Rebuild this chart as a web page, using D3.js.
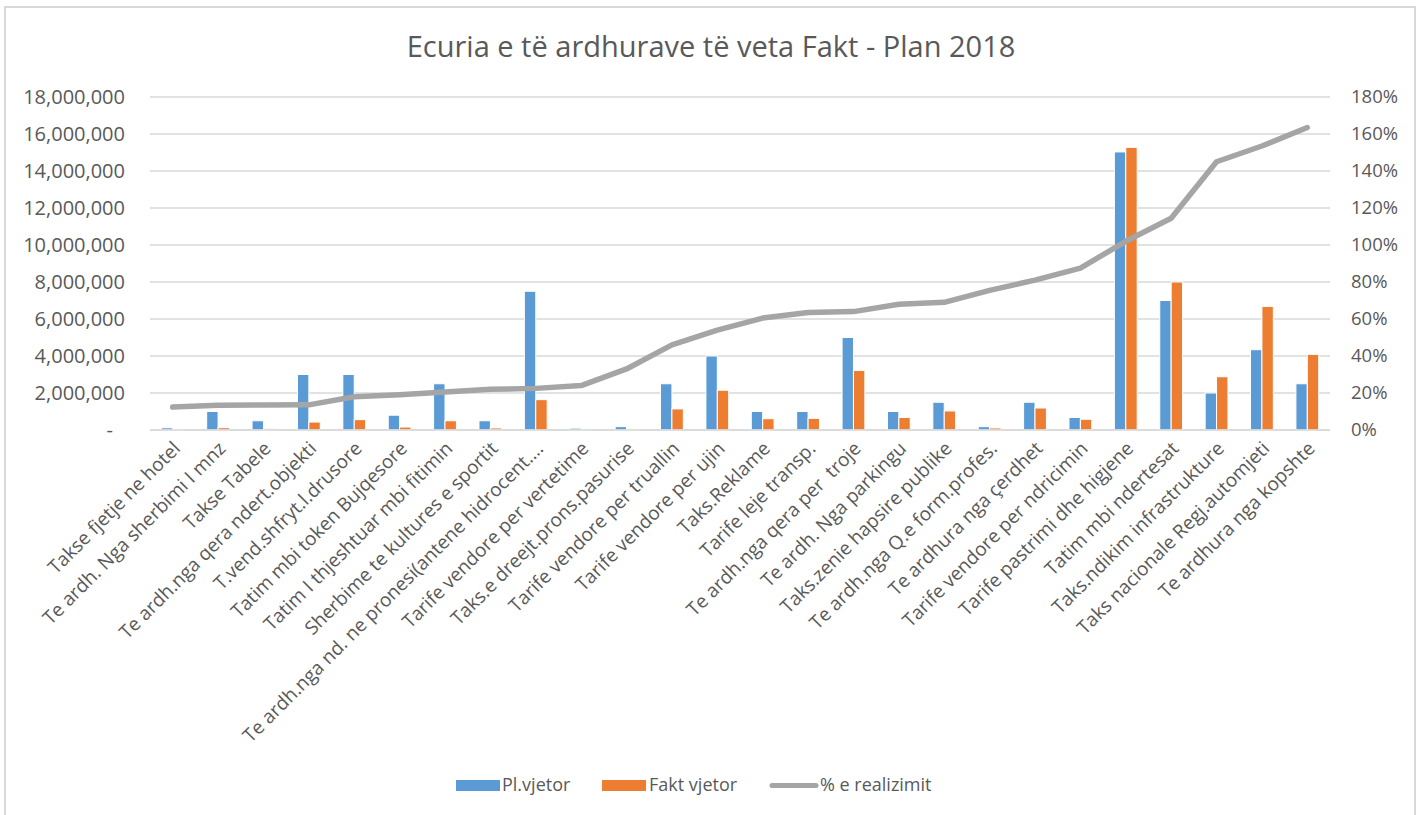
<!DOCTYPE html>
<html>
<head>
<meta charset="utf-8">
<script src="https://cdn.jsdelivr.net/npm/d3@7"></script>
<style>
  html, body { margin: 0; padding: 0; background: #fff; }
  svg { display: block; font-family: "Open Sans", sans-serif; }
</style>
</head>
<body>
<svg id="chart" width="1422" height="815"></svg>
<script>
const categories = [
  "Takse fjetje ne hotel",
  "Te ardh. Nga sherbimi I mnz",
  "Takse Tabele",
  "Te ardh.nga qera ndert.objekti",
  "T.vend.shfryt.l.drusore",
  "Tatim mbi token Bujqesore",
  "Tatim I thjeshtuar mbi fitimin",
  "Sherbime te kultures e sportit",
  "Te ardh.nga nd. ne pronesi(antene hidrocent.…",
  "Tarife vendore per vertetime",
  "Taks.e dreejt.prons.pasurise",
  "Tarife vendore per truallin",
  "Tarife vendore per ujin",
  "Taks.Reklame",
  "Tarife leje transp.",
  "Te ardh.nga qera per  troje",
  "Te ardh. Nga parkingu",
  "Taks.zenie hapsire publike",
  "Te ardh.nga Q.e form.profes.",
  "Te ardhura nga çerdhet",
  "Tarife vendore per ndricimin",
  "Tarife pastrimi dhe higjene",
  "Tatim mbi ndertesat",
  "Taks.ndikim infrastrukture",
  "Taks nacionale Regj.automjeti",
  "Te ardhura nga kopshte"
];
const planValues = [120000, 1000000, 500000, 3000000, 3000000, 800000, 2500000, 500000, 7500000, 100000,
  180000, 2500000, 4000000, 1000000, 1000000, 5000000, 1000000, 1500000, 180000, 1500000,
  680000, 15030000, 7000000, 2000000, 4340000, 2500000];
const factValues = [15000, 125000, 67000, 430000, 560000, 160000, 500000, 110000, 1640000, 24000,
  58000, 1140000, 2150000, 610000, 630000, 3220000, 680000, 1030000, 110000, 1190000,
  580000, 15280000, 8000000, 2880000, 6680000, 4090000];
const pctValues = [12.4, 13.4, 13.5, 13.6, 18, 19, 20.5, 22, 22.5, 24, 33, 46, 54, 60.5, 63.5, 64, 68, 69,
  75.5, 81, 87.5, 102, 114.5, 145, 153.5, 163.5];
const leftTicks = [0, 2000000, 4000000, 6000000, 8000000, 10000000, 12000000, 14000000, 16000000, 18000000];
const rightTicks = [0, 20, 40, 60, 80, 100, 120, 140, 160, 180];
const seriesNames = ["Pl.vjetor", "Fakt vjetor", "% e realizimit"];
const title = "Ecuria e të ardhurave të veta Fakt - Plan 2018";

const colors = { plan: "#5B9BD5", fact: "#ED7D31", line: "#A5A5A5", grid: "#D9D9D9", text: "#595959" };

const svg = d3.select("#chart");
const plot = { left: 150, right: 1330, top: 97, bottom: 430 };

// chart border
svg.append("rect").attr("x", 5).attr("y", 7).attr("width", 1410).attr("height", 820)
  .attr("fill", "none").attr("stroke", colors.grid).attr("stroke-width", 2);

const x = d3.scaleBand().domain(categories).range([plot.left, plot.right]).padding(0);
const y = d3.scaleLinear().domain([0, 18000000]).range([plot.bottom, plot.top]);
const y2 = d3.scaleLinear().domain([0, 180]).range([plot.bottom, plot.top]);

// title
svg.append("text").attr("x", 711).attr("y", 57).attr("text-anchor", "middle")
  .attr("font-size", 29).attr("fill", colors.text).text(title);

// gridlines
svg.append("g").selectAll("line").data(leftTicks).join("line")
  .attr("x1", plot.left).attr("x2", plot.right)
  .attr("y1", d => y(d)).attr("y2", d => y(d))
  .attr("stroke", colors.grid).attr("stroke-width", 1.5);

// left axis
const fmt = d3.format(",");
const leftAxis = svg.append("g").attr("transform", `translate(${plot.left},0)`)
  .call(d3.axisLeft(y).tickValues(leftTicks).tickSize(0).tickPadding(25)
    .tickFormat(d => d === 0 ? "-" : fmt(d)));
leftAxis.select(".domain").remove();
leftAxis.selectAll("text").attr("font-size", 20).attr("fill", colors.text)
  .attr("font-family", "Open Sans, sans-serif")
  .attr("dx", d => d === 0 ? -12 : 0);

// right axis
const rightAxis = svg.append("g").attr("transform", `translate(${plot.right},0)`)
  .call(d3.axisRight(y2).tickValues(rightTicks).tickSize(0).tickPadding(21)
    .tickFormat(d => d + "%"));
rightAxis.select(".domain").remove();
rightAxis.selectAll("text").attr("font-size", 18.5).attr("fill", colors.text)
  .attr("font-family", "Open Sans, sans-serif");

// bars
const bw = x.bandwidth();
const barW = 11.4;
const bars = svg.append("g");
bars.selectAll("rect.plan").data(categories).join("rect").attr("class", "plan")
  .attr("x", (d) => x(d) + bw / 2 - barW)
  .attr("width", barW)
  .attr("y", (d, i) => y(planValues[i]))
  .attr("height", (d, i) => y(0) - y(planValues[i]))
  .attr("fill", colors.plan).attr("stroke", "#fff").attr("stroke-width", 1);
bars.selectAll("rect.fact").data(categories).join("rect").attr("class", "fact")
  .attr("x", (d) => x(d) + bw / 2)
  .attr("width", barW)
  .attr("y", (d, i) => y(factValues[i]))
  .attr("height", (d, i) => y(0) - y(factValues[i]))
  .attr("fill", colors.fact).attr("stroke", "#fff").attr("stroke-width", 1);

// baseline
svg.append("line").attr("x1", plot.left).attr("x2", plot.right)
  .attr("y1", y(0)).attr("y2", y(0)).attr("stroke", colors.grid).attr("stroke-width", 1.5);

// line
const line = d3.line().x((d, i) => x(categories[i]) + bw / 2).y(d => y2(d));
svg.append("path").datum(pctValues).attr("d", line)
  .attr("fill", "none").attr("stroke", colors.line).attr("stroke-width", 5.5)
  .attr("stroke-linejoin", "round").attr("stroke-linecap", "round");

// category labels
svg.append("g").selectAll("text").data(categories).join("text")
  .attr("transform", d => `translate(${x(d) + bw / 2 + 4},${plot.bottom + 15}) rotate(-45)`)
  .attr("text-anchor", "end").attr("dy", "0.35em")
  .attr("font-size", 19).attr("fill", colors.text)
  .attr("xml:space", "preserve")
  .text(d => d);

// legend
const lg = svg.append("g");
lg.append("rect").attr("x", 456).attr("y", 780).attr("width", 44).attr("height", 11).attr("fill", colors.plan);
lg.append("text").attr("x", 502).attr("y", 791).attr("font-size", 18).attr("fill", colors.text).text(seriesNames[0]);
lg.append("rect").attr("x", 602).attr("y", 780).attr("width", 44).attr("height", 11).attr("fill", colors.fact);
lg.append("text").attr("x", 649).attr("y", 791).attr("font-size", 18).attr("fill", colors.text).text(seriesNames[1]);
lg.append("line").attr("x1", 772).attr("x2", 816).attr("y1", 785.5).attr("y2", 785.5)
  .attr("stroke", colors.line).attr("stroke-width", 5).attr("stroke-linecap", "round");
lg.append("text").attr("x", 820).attr("y", 791).attr("font-size", 18).attr("fill", colors.text).text(seriesNames[2]);
</script>
</body>
</html>
